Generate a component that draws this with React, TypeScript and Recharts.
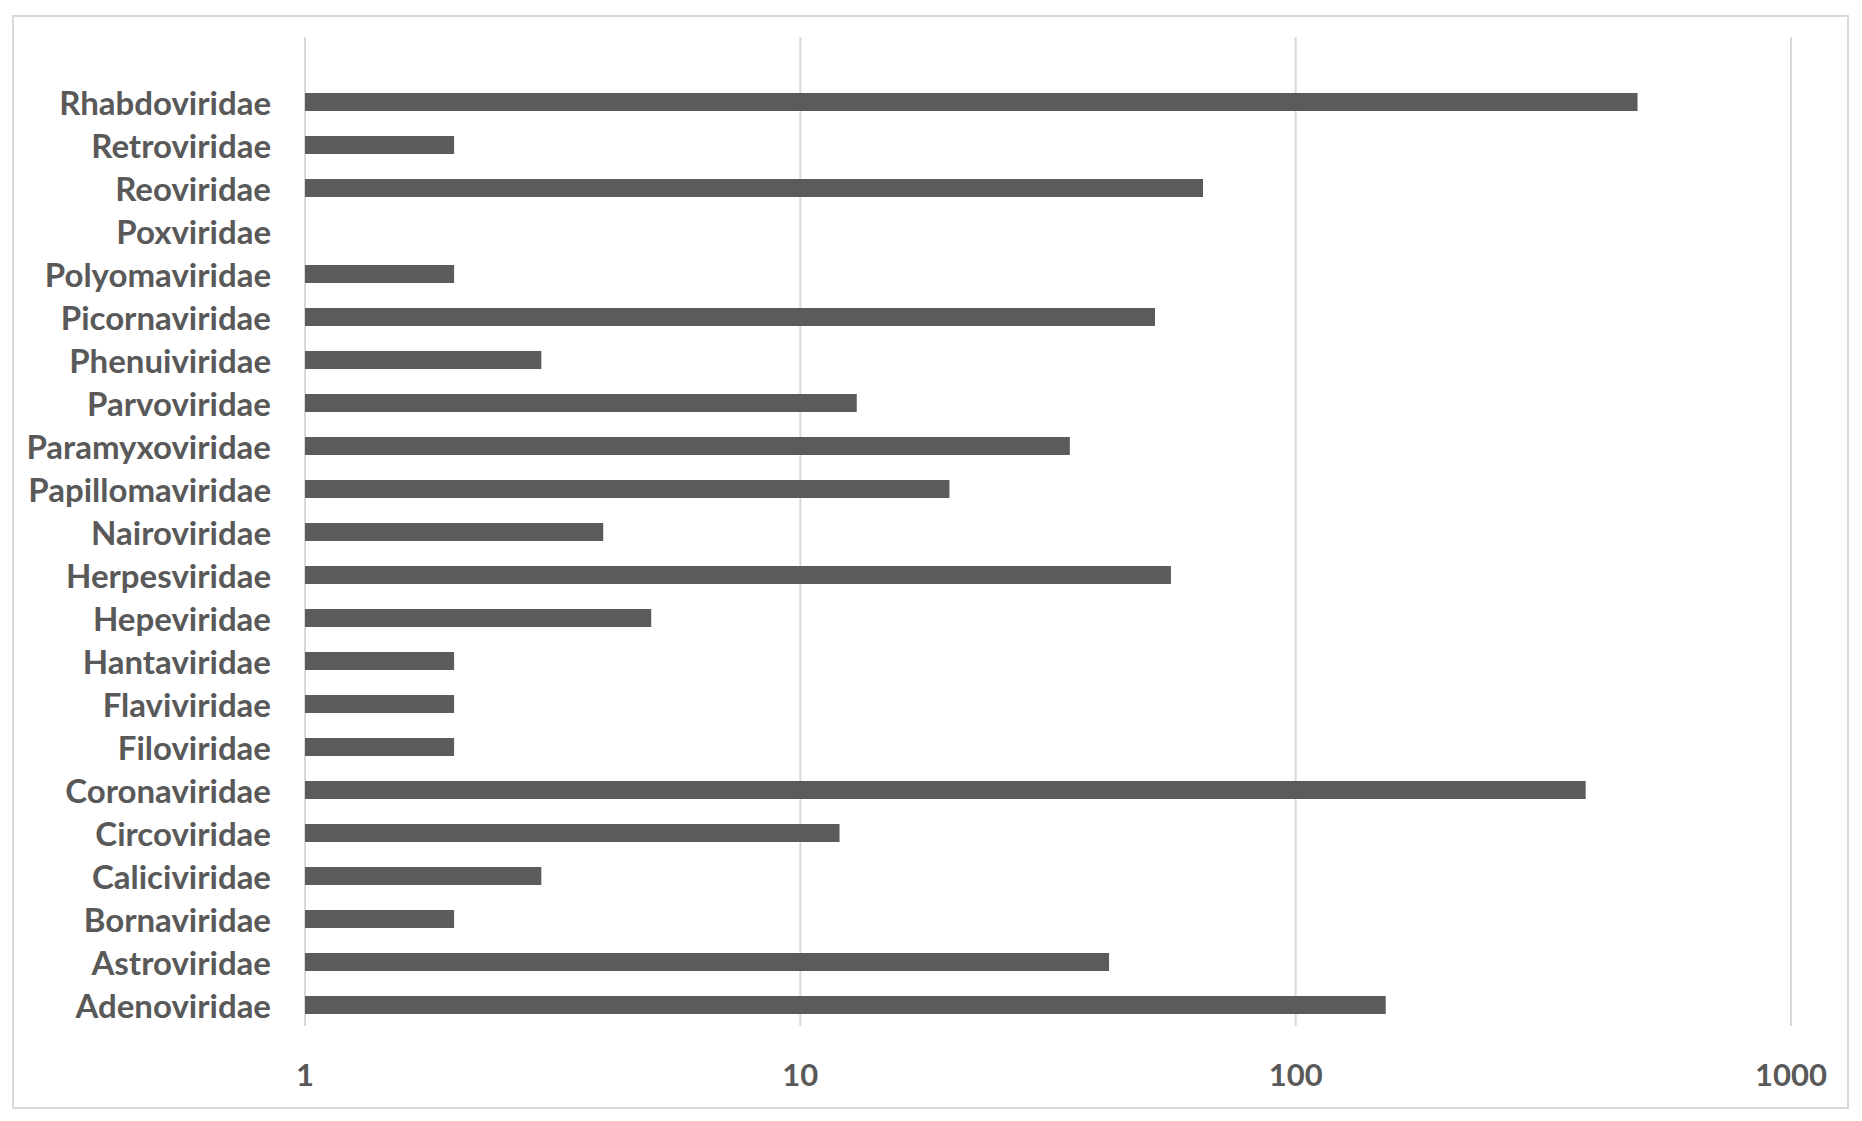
import React from "react";
import { BarChart, Bar, XAxis, YAxis, CartesianGrid } from "recharts";

// top row is an empty slot, as in the source chart
const families = [
  "",
  "Rhabdoviridae",
  "Retroviridae",
  "Reoviridae",
  "Poxviridae",
  "Polyomaviridae",
  "Picornaviridae",
  "Phenuiviridae",
  "Parvoviridae",
  "Paramyxoviridae",
  "Papillomaviridae",
  "Nairoviridae",
  "Herpesviridae",
  "Hepeviridae",
  "Hantaviridae",
  "Flaviviridae",
  "Filoviridae",
  "Coronaviridae",
  "Circoviridae",
  "Caliciviridae",
  "Bornaviridae",
  "Astroviridae",
  "Adenoviridae",
];

const counts = [
  null, 490, 2, 65, 1, 2, 52, 3, 13, 35, 20, 4, 56, 5, 2, 2, 2, 385, 12, 3, 2, 42, 152,
];

const xTicks = [1, 10, 100, 1000];

const data = families.map((name, i) => ({ name, count: counts[i] }));

const font = "Lato, 'Noto Sans', sans-serif";

const XTick = (props: any) => {
  const { x, y, payload } = props;
  return (
    <text
      x={x}
      y={y + 40}
      textAnchor="middle"
      dominantBaseline="central"
      fill="#595959"
      fontSize={31}
      fontWeight={700}
      fontFamily={font}
    >
      {payload.value}
    </text>
  );
};

const YTick = (props: any) => {
  const { x, y, payload } = props;
  return (
    <text
      x={x}
      y={y}
      textAnchor="end"
      dominantBaseline="central"
      fill="#595959"
      fontSize={33}
      fontWeight={700}
      fontFamily={font}
    >
      {payload.value}
    </text>
  );
};

export default function App() {
  return (
    <div
      style={{
        position: "absolute",
        left: 0,
        top: 0,
        width: 1862,
        height: 1121,
        background: "#fff",
      }}
    >
      <div
        style={{
          position: "absolute",
          left: 12,
          top: 15,
          width: 1833,
          height: 1090,
          border: "2px solid #d9d9d9",
        }}
      />
      <BarChart
        width={1862}
        height={1121}
        data={data}
        layout="vertical"
        margin={{ top: 37, right: 71, bottom: 35, left: 0 }}
        barSize={18}
        style={{ position: "absolute", left: 0, top: 0 }}
      >
        <CartesianGrid horizontal={false} stroke="#d9d9d9" strokeWidth={2} />
        <XAxis
          type="number"
          scale="log"
          domain={[1, 1000]}
          ticks={xTicks}
          allowDataOverflow
          axisLine={false}
          tickLine={false}
          height={60}
          tick={<XTick />}
        />
        <YAxis
          type="category"
          dataKey="name"
          width={305}
          interval={0}
          axisLine={false}
          tickLine={false}
          tickSize={0}
          tickMargin={34}
          tick={<YTick />}
        />
        <Bar dataKey="count" fill="#5b5b5b" isAnimationActive={false} />
      </BarChart>
    </div>
  );
}
